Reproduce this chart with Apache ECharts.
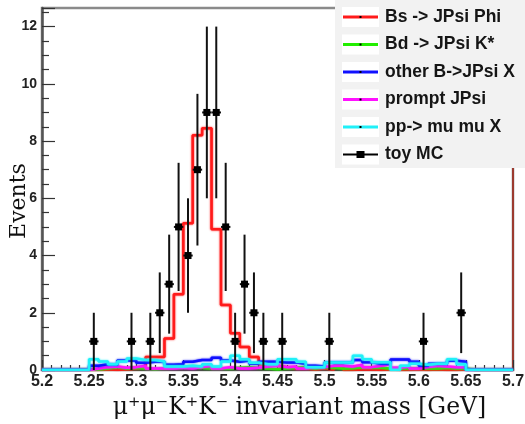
<!DOCTYPE html>
<html>
<head>
<meta charset="utf-8">
<script src="https://cdn.jsdelivr.net/npm/echarts@6/dist/echarts.min.js"></script>
<style>
  html, body { margin: 0; padding: 0; background: #ffffff; }
  #chart { width: 525px; height: 424px; }
</style>
</head>
<body>
<div id="chart"></div>
<script>
// Binning of all histograms: 50 bins of 10 MeV from 5.20 to 5.70 GeV
const binStart = 5.2;
const binWidth = 0.01;

// Expected events per bin for each sample
const bsJpsiPhi = [
  0, 0, 0, 0, 0,
  0, 0.02, 0, 0.02, 0.05, 0.1, 0.45, 0.45, 1.1, 2.65,
  5.13, 8.2, 8.45, 4.92, 2.27, 1.28, 0.8, 0.45, 0.2, 0.15,
  0.1, 0.05, 0.05, 0.02, 0.05, 0.02, 0.15, 0, 0.02, 0.02,
  0, 0.02, 0, 0, 0.02, 0, 0.02, 0, 0, 0.02,
  0, 0, 0, 0, 0
];
const bdJpsiKstar = [
  0, 0, 0, 0, 0,
  0.02, 0.05, 0.1, 0.05, 0.08, 0.05, 0.03, 0.05, 0.08, 0.1,
  0.12, 0.08, 0.05, 0.05, 0.04, 0.08, 0.1, 0.07, 0.05, 0.03,
  0.05, 0.08, 0.1, 0.05, 0.1, 0.08, 0.05, 0.06, 0.1, 0.08,
  0.08, 0.05, 0.05, 0.06, 0.05, 0.05, 0.05, 0.08, 0.05, 0.05,
  0, 0, 0, 0, 0
];
const otherBJpsiX = [
  0, 0, 0, 0, 0,
  0.15, 0.2, 0.18, 0.33, 0.33, 0.25, 0.29, 0.29, 0.18, 0.2,
  0.29, 0.35, 0.35, 0.43, 0.33, 0.29, 0.33, 0.22, 0.29, 0.29,
  0.26, 0.26, 0.22, 0.15, 0.12, 0.26, 0.26, 0.26, 0.35, 0.27,
  0.22, 0.22, 0.37, 0.37, 0.29, 0.15, 0.22, 0.22, 0.32, 0.29,
  0, 0, 0, 0, 0
];
const promptJpsi = [
  0, 0, 0, 0, 0,
  0.05, 0.1, 0.12, 0.08, 0.1, 0.15, 0.05, 0.05, 0.05, 0.08,
  0.05, 0.1, 0.15, 0.05, 0.1, 0.05, 0.05, 0.08, 0.12, 0.15,
  0.1, 0.12, 0.05, 0.1, 0.1, 0.15, 0.15, 0.12, 0.18, 0.1,
  0.15, 0.2, 0.08, 0.12, 0.05, 0.1, 0.15, 0.12, 0.1, 0.1,
  0, 0, 0, 0, 0
];
const ppMuMuX = [
  0, 0, 0, 0, 0,
  0.38, 0.3, 0.2, 0.3, 0.4, 0.35, 0.35, 0.3, 0.12, 0.12,
  0.15, 0.12, 0.2, 0.12, 0.3, 0.5, 0.38, 0.25, 0.2, 0.2,
  0.38, 0.38, 0.29, 0.1, 0.1, 0.26, 0.26, 0.26, 0.5, 0.38,
  0.27, 0.27, 0, 0.15, 0.22, 0.18, 0.22, 0.22, 0.38, 0.2,
  0, 0, 0, 0, 0
];

// Toy MC pseudo-data: bin centre, counts, and Poisson error
const toyMass   = [5.255, 5.295, 5.315, 5.325, 5.335, 5.345, 5.355, 5.365, 5.375, 5.385,
                   5.395, 5.405, 5.415, 5.425, 5.435, 5.455, 5.505, 5.605, 5.645];
const toyCounts = [1, 1, 1, 2, 3, 5, 4, 7, 9, 9,
                   5, 1, 3, 2, 1, 1, 1, 1, 2];
const toyErrors = [1, 1, 1, 1.41, 1.73, 2.24, 2, 2.65, 3, 3,
                   2.24, 1, 1.73, 1.41, 1, 1, 1, 1, 1.41];

const sampleNames = ['Bs -> JPsi Phi', 'Bd -> JPsi K*', 'other B->JPsi X', 'prompt JPsi', 'pp-> mu mu X'];
const sampleColors = ['#ff1a1a', '#22ee00', '#1010ff', '#ff10ff', '#20f0f8'];
const toyName = 'toy MC';

const xTitle = 'μ⁺μ⁻K⁺K⁻ invariant mass [GeV]';
const yTitle = 'Events';

// Turn bin contents into a closed step outline (ROOT "hist" style)
function stepOutline(values) {
  const pts = [[binStart, 0]];
  values.forEach((v, i) => pts.push([binStart + i * binWidth, v]));
  const xEnd = binStart + values.length * binWidth;
  pts.push([xEnd, values[values.length - 1]]);
  pts.push([xEnd, 0]);
  return pts;
}

const histograms = [bsJpsiPhi, bdJpsiKstar, otherBJpsiX, promptJpsi, ppMuMuX];
// drawing order: signal first, then backgrounds, cyan on top
const drawOrder = [0, 1, 3, 2, 4];

const series = drawOrder.map((k) => ({
  name: sampleNames[k],
  type: 'line',
  step: 'end',
  data: stepOutline(histograms[k]),
  symbol: 'none',
  lineStyle: { color: sampleColors[k], width: 2.5, shadowColor: sampleColors[k], shadowBlur: 2 },
  itemStyle: { color: sampleColors[k] },
  animation: false,
  z: 2
}));

series.push({
  name: toyName,
  type: 'custom',
  data: toyMass.map((m, i) => [m, toyCounts[i], toyErrors[i]]),
  encode: { x: 0, y: 1 },
  itemStyle: { color: '#000' },
  z: 5,
  animation: false,
  renderItem: function (params, api) {
    const x = api.value(0), n = api.value(1), e = api.value(2);
    const c = api.coord([x, n]);
    const top = api.coord([x, n + e]);
    const bot = api.coord([x, Math.max(0, n - e)]);
    const l = api.coord([x - binWidth / 2, n]);
    const r = api.coord([x + binWidth / 2, n]);
    return {
      type: 'group',
      children: [
        { type: 'line', shape: { x1: c[0], y1: top[1], x2: c[0], y2: bot[1] },
          style: { stroke: '#111', lineWidth: 2 } },
        { type: 'line', shape: { x1: l[0], y1: c[1], x2: r[0], y2: c[1] },
          style: { stroke: '#111', lineWidth: 2 } },
        { type: 'rect', shape: { x: c[0] - 3.5, y: c[1] - 3.5, width: 7, height: 7 },
          style: { fill: '#000' } }
      ]
    };
  }
});

// Legend layout
const legendLeft = 343;
const legendTop = 8;
const legendRow = 27.5;
const legendTextHeight = 18;
const legendNames = sampleNames.concat([toyName]);
const legendColors = sampleColors.concat(['#000']);

const legendBoxes = [];
legendNames.forEach((nm, i) => {
  const cy = legendTop + legendTextHeight / 2 + i * legendRow;
  legendBoxes.push({ type: 'rect', x: legendLeft - 1, y: cy - 10, z: 4,
    shape: { x: 0, y: 0, width: 37, height: 20 }, style: { fill: '#ffffff' } });
  if (i < sampleNames.length) {
    legendBoxes.push({ type: 'rect', x: legendLeft + 16.5, y: cy - 1, z: 10,
      shape: { x: 0, y: 0, width: 2, height: 2 }, style: { fill: '#000' } });
  }
});

const chart = echarts.init(document.getElementById('chart'), null, { renderer: 'canvas' });
chart.setOption({
  backgroundColor: '#ffffff',
  animation: false,
  grid: {
    left: 42, right: 12, top: 8, bottom: 54,
    outerBoundsMode: 'none',
    containLabel: false,
    show: true, borderColor: '#8a8a8a', borderWidth: 2.5, backgroundColor: 'transparent'
  },
  graphic: [
    { type: 'rect', x: 335, y: -2, z: 3,
      shape: { x: 0, y: 0, width: 200, height: 170 }, style: { fill: '#f2f2f2' } }
  ].concat(legendBoxes),
  legend: {
    orient: 'vertical',
    left: legendLeft,
    top: legendTop,
    padding: 0,
    itemWidth: 35,
    itemHeight: 20,
    itemGap: legendRow - legendTextHeight,
    z: 6,
    textStyle: { fontFamily: 'Liberation Sans', fontWeight: 'bold', fontSize: 17.5, color: '#151515',
                 padding: [0, 0, 0, 2] },
    data: legendNames.map((nm, i) => ({
      name: nm,
      icon: i < sampleNames.length ? 'path://M0,0H35V3H0Z' : 'path://M0,2.6H13.5V0H21.5V2.6H35V4.4H21.5V7H13.5V4.4H0Z',
      itemStyle: { color: legendColors[i], borderWidth: 0 }
    }))
  },
  xAxis: {
    type: 'value',
    min: 5.2, max: 5.7, interval: 0.05,
    name: xTitle,
    nameLocation: 'middle',
    nameGap: 26,
    nameMoveOverlap: false,
    nameTextStyle: { fontFamily: 'DejaVu Serif', fontSize: 23.5, color: '#111', padding: [0, 0, 0, 44] },
    axisLine: { show: true, onZero: false, lineStyle: { color: '#333', width: 1.5 } },
    axisTick: { show: true, inside: true, length: 10, lineStyle: { color: '#333', width: 1.2 } },
    minorTick: { show: true, splitNumber: 5, length: 5, lineStyle: { color: '#333', width: 1.2 } },
    splitLine: { show: false },
    axisLabel: {
      fontFamily: 'Liberation Sans', fontWeight: 'bold', fontSize: 16, color: '#222', margin: 4,
      formatter: (v) => String(+v.toFixed(2))
    }
  },
  yAxis: [{
    type: 'value',
    min: 0, max: 12.65, interval: 2,
    name: yTitle,
    nameLocation: 'middle',
    nameGap: 12,
    nameRotate: 90,
    nameMoveOverlap: false,
    nameTextStyle: { fontFamily: 'DejaVu Serif', fontSize: 22, color: '#111', padding: [0, 24, 0, 0] },
    axisLine: { show: true, lineStyle: { color: '#555', width: 2.5 } },
    axisTick: { show: true, inside: true, length: 13, lineStyle: { color: '#333', width: 1.2 } },
    minorTick: { show: true, splitNumber: 4, length: 7, lineStyle: { color: '#333', width: 1.2 } },
    splitLine: { show: false },
    axisLabel: {
      fontFamily: 'Liberation Sans', fontWeight: 'bold', fontSize: 14, color: '#222', margin: 5,
      showMaxLabel: false
    }
  }, {
    type: 'value',
    position: 'right',
    min: 0, max: 1,
    axisLine: { show: true, lineStyle: { color: '#9c3b30', width: 2 } },
    axisTick: { show: false },
    axisLabel: { show: false },
    splitLine: { show: false }
  }],
  series: series
});
</script>
</body>
</html>
